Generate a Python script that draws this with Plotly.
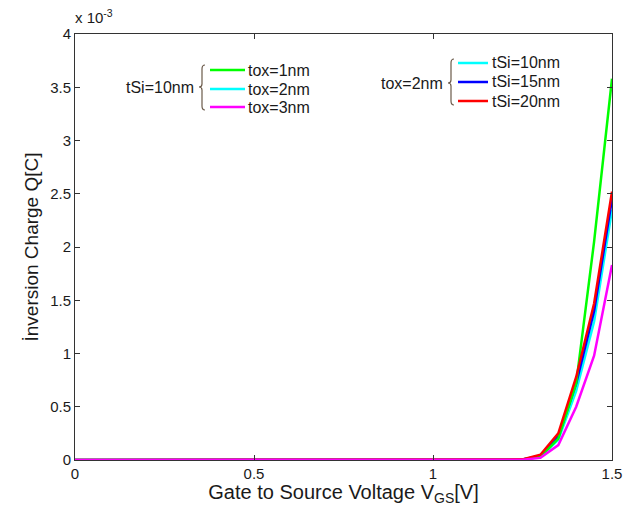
import plotly.graph_objects as go

# Gate-source voltage samples (V)
vgs = [round(i * 0.05, 2) for i in range(31)]
zeros = [0.0] * 25  # 0 .. 1.20 V

# Inversion charge (x1e-3 C)
q_tox1_tsi10 = zeros + [0.005, 0.03, 0.20, 0.72, 2.05, 3.58]
q_tox2_tsi10 = zeros + [0.005, 0.03, 0.19, 0.65, 1.30, 2.35]
q_tox3_tsi10 = zeros + [0.003, 0.02, 0.14, 0.50, 0.98, 1.83]
q_tox2_tsi15 = zeros + [0.005, 0.04, 0.22, 0.72, 1.40, 2.45]
q_tox2_tsi20 = zeros + [0.006, 0.05, 0.25, 0.78, 1.47, 2.52]

series = [
    ("tox=2nm, tSi=10nm", q_tox2_tsi10, "#00ffff"),
    ("tox=2nm, tSi=15nm", q_tox2_tsi15, "#0000ff"),
    ("tox=1nm, tSi=10nm", q_tox1_tsi10, "#00ff00"),
    ("tox=2nm, tSi=20nm", q_tox2_tsi20, "#ff0000"),
    ("tox=3nm, tSi=10nm", q_tox3_tsi10, "#ff00ff"),
]

fig = go.Figure()
for name, vals, col in series:
    fig.add_trace(go.Scatter(x=vgs, y=[v * 1e-3 for v in vals], mode="lines",
                             name=name, line=dict(color=col, width=2.5),
                             showlegend=False))

L, R, T, B = 75, 612, 34, 460
def px(x):
    return (x - L) / (R - L)
def py(y):
    return (B - y) / (B - T)

FAM = "Liberation Sans, Arial, sans-serif"
TXT = "#1a1a1a"
font = dict(family=FAM, size=16, color=TXT)
tickfont = dict(family=FAM, size=15, color=TXT)
shapes = []
annots = []

def group(label, label_right, label_y, brace_x, top, bot, items, line_x0, line_x1, text_x):
    annots.append(dict(x=px(label_right), y=py(label_y), xref="paper", yref="paper",
                       text=label, showarrow=False, xanchor="right", yanchor="middle", font=font))
    mid = label_y
    path = (f"M {px(brace_x+3)},{py(top)} Q {px(brace_x)},{py(top)} {px(brace_x)},{py(top+4)} "
            f"L {px(brace_x)},{py(mid-3)} Q {px(brace_x)},{py(mid)} {px(brace_x-3)},{py(mid)} "
            f"Q {px(brace_x)},{py(mid)} {px(brace_x)},{py(mid+3)} "
            f"L {px(brace_x)},{py(bot-4)} Q {px(brace_x)},{py(bot)} {px(brace_x+3)},{py(bot)}")
    shapes.append(dict(type="path", xref="paper", yref="paper", path=path,
                       line=dict(color="#6b5a4a", width=1.2)))
    for txt, y, col in items:
        shapes.append(dict(type="line", xref="paper", yref="paper",
                           x0=px(line_x0), x1=px(line_x1), y0=py(y), y1=py(y),
                           line=dict(color=col, width=2.5)))
        annots.append(dict(x=px(text_x), y=py(y), xref="paper", yref="paper", text=txt,
                           showarrow=False, xanchor="left", yanchor="middle", font=font))

group("tSi=10nm", 196, 87, 202, 65, 110,
      [("tox=1nm", 70, "#00ff00"), ("tox=2nm", 89, "#00ffff"), ("tox=3nm", 107, "#ff00ff")],
      210, 245, 246)
group("tox=2nm", 445, 83, 451, 59, 105,
      [("tSi=10nm", 63, "#00ffff"), ("tSi=15nm", 82, "#0000ff"), ("tSi=20nm", 101, "#ff0000")],
      458, 488, 490)

annots.append(dict(x=px(73), y=py(17), xref="paper", yref="paper", text="x 10<sup>-3</sup>",
                   showarrow=False, xanchor="left", yanchor="middle",
                   font=dict(family=FAM, size=15, color=TXT)))

ytickvals = [i * 0.5e-3 for i in range(9)]
yticktext = ["0", "0.5", "1", "1.5", "2", "2.5", "3", "3.5", "4"]

axis_common = dict(showgrid=False, zeroline=False, showline=True, linecolor="#333333",
                   linewidth=1, mirror="ticks", ticks="inside", ticklen=5,
                   tickcolor="#333333", tickfont=tickfont, automargin=False)

fig.update_layout(
    width=630, height=506,
    margin=dict(l=L, r=630 - R, t=T, b=506 - B),
    paper_bgcolor="white", plot_bgcolor="white",
    font=font,
    xaxis=dict(range=[0, 1.5], tickvals=[0, 0.5, 1, 1.5], ticktext=["0", "0.5", "1", "1.5"],
               title=dict(text="Gate to Source Voltage V<sub>GS</sub>[V]",
                          font=dict(family=FAM, size=20, color=TXT),
                          standoff=2),
               **axis_common),
    yaxis=dict(range=[0, 4e-3], tickvals=ytickvals, ticktext=yticktext,
               title=dict(text="İnversion Charge Q[C]",
                          font=dict(family=FAM, size=19, color=TXT),
                          standoff=6),
               **axis_common),
    shapes=shapes, annotations=annots,
)

fig.write_html("out.html", config={"displayModeBar": False, "staticPlot": True},
               post_script="document.body.style.margin='0';document.body.style.overflow='hidden';")
